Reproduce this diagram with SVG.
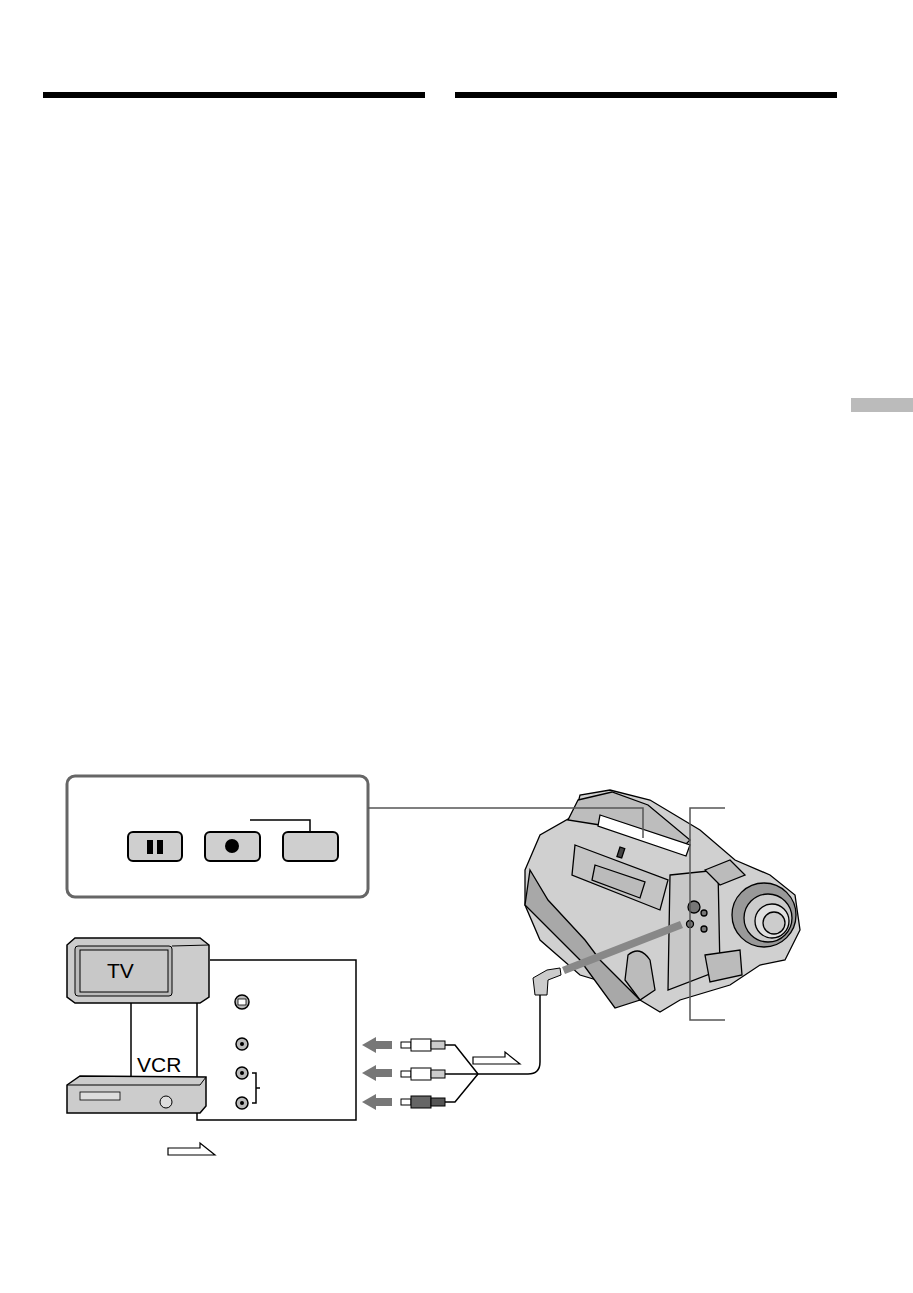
<svg xmlns="http://www.w3.org/2000/svg" width="913" height="1293" viewBox="0 0 913 1293">
<style>
.k{stroke:#000;fill:none;stroke-width:1.5}
.btn{fill:#cfcfcf;stroke:#000;stroke-width:2}
.jack{fill:#bbb;stroke:#000;stroke-width:1.5}
.ga{fill:#777}
.hollow{fill:#fff;stroke:#000;stroke-width:1.2}
.lbl{font-family:"Liberation Sans",Arial,sans-serif;font-size:21px}
</style>
<rect width="913" height="1293" fill="#fff"/>
<rect x="43" y="92" width="382" height="6" fill="#000"/>
<rect x="455" y="92" width="382" height="6" fill="#000"/>
<rect x="851" y="398" width="62" height="14" fill="#bbb"/>

<g id="panel">
<rect x="67" y="776" width="301" height="121" rx="8" fill="#fff" stroke="#666" stroke-width="3"/>
<rect x="128" y="832" width="54" height="29" rx="5" class="btn"/>
<rect x="147" y="840" width="6" height="14" fill="#000"/><rect x="157" y="840" width="6" height="14" fill="#000"/>
<rect x="205" y="832" width="55" height="29" rx="5" class="btn"/>
<circle cx="232" cy="846" r="7" fill="#000"/>
<rect x="283" y="832" width="55" height="29" rx="5" class="btn"/>
<polyline points="250,820 310,820 310,832" class="k" stroke-width="2"/>
</g>

<g id="camera" stroke="#000" stroke-width="1.3">
<path d="M525,870 L540,835 L575,815 L580,795 L610,790 L650,800 L700,830 L735,860 L770,875 L795,895 L800,930 L785,960 L760,965 L730,985 L680,1000 L660,1012 L640,1000 L630,990 L580,975 L540,940 L525,905 Z" fill="#d0d0d0"/>
<path d="M530,870 L548,900 L585,940 L600,960 L640,1000 L615,1008 L580,960 L550,930 L525,905 Z" fill="#a8a8a8"/>
<path d="M578,800 L612,792 L648,805 L690,840 L680,850 L600,825 L568,820 Z" fill="#bdbdbd"/>
<path d="M600,815 L690,845 L686,856 L598,826 Z" fill="#fff"/>
<rect x="620" y="847" width="5" height="10" fill="#444" transform="rotate(18 620 847)"/>
<path d="M575,845 L668,880 L660,910 L572,875 Z" fill="#c4c4c4"/>
<path d="M595,865 L645,882 L640,898 L592,880 Z" fill="#bbb"/>
<path d="M670,875 L718,870 L720,970 L668,990 Z" fill="#c8c8c8"/>
<circle cx="694" cy="907" r="6" fill="#777"/>
<circle cx="690" cy="924" r="3.5" fill="#777"/>
<circle cx="704" cy="913" r="3" fill="#777"/>
<circle cx="704" cy="929" r="3" fill="#777"/>
<path d="M705,870 L730,860 L745,875 L720,885 Z" fill="#bbb"/>
<path d="M705,955 L740,950 L742,975 L710,982 Z" fill="#bbb"/>
<circle cx="764" cy="915" r="32" fill="#999"/>
<circle cx="768" cy="918" r="24" fill="#ccc"/>
<circle cx="772" cy="921" r="17" fill="#e0e0e0"/>
<circle cx="774" cy="923" r="11" fill="#ccc"/>
<path d="M628,955 Q640,945 650,960 L655,990 L640,1000 L625,980 Z" fill="#bbb"/>
</g>

<g id="connectors">
<polyline points="368,808 643,808 643,838" stroke="#555" stroke-width="1.5" fill="none"/>
<polyline points="725,808 690,808 690,1020 725,1020" stroke="#555" stroke-width="1.5" fill="none"/>
<line x1="131" y1="1003" x2="131" y2="1078" class="k"/>
<polyline points="197,1003 197,1120 356,1120 356,960 210,960" class="k"/>
<polygon points="392,1041 376,1041 376,1037 362,1045 376,1053 376,1049 392,1049" class="ga"/>
<polygon points="392,1069 376,1069 376,1065 362,1073 376,1081 376,1077 392,1077" class="ga"/>
<polygon points="392,1098 376,1098 376,1094 362,1102 376,1110 376,1106 392,1106" class="ga"/>
<polyline points="445,1045 455,1045 478,1074" class="k" stroke-width="2"/>
<line x1="445" y1="1074" x2="478" y2="1074" class="k" stroke-width="2"/>
<polyline points="445,1102 455,1102 478,1074" class="k" stroke-width="2"/>
<path d="M478,1074 H528 Q540,1074 540,1062 V985" class="k" stroke-width="2"/>
<polygon points="562,967 680,921 683,928 565,974" fill="#888"/>
<polygon points="473,1057 505,1057 505,1052 520,1064 473,1064" class="hollow"/>
<polygon points="168,1148 200,1148 200,1143 215,1155 168,1155" class="hollow"/>
</g>

<g id="plugs">
<g transform="translate(0,1045)"><rect x="401" y="-3" width="10" height="6" fill="#fff" stroke="#000"/><rect x="411" y="-6" width="20" height="12" fill="#fff" stroke="#000"/><rect x="431" y="-4" width="14" height="8" fill="#ccc" stroke="#000"/></g>
<g transform="translate(0,1074)"><rect x="401" y="-3" width="10" height="6" fill="#fff" stroke="#000"/><rect x="411" y="-6" width="20" height="12" fill="#fff" stroke="#000"/><rect x="431" y="-4" width="14" height="8" fill="#ccc" stroke="#000"/></g>
<g transform="translate(0,1102)"><rect x="401" y="-3" width="10" height="6" fill="#fff" stroke="#000"/><rect x="411" y="-6" width="20" height="12" fill="#666" stroke="#000"/><rect x="431" y="-4" width="14" height="8" fill="#555" stroke="#000"/></g>
<path d="M535,995 L533,978 L547,970 L560,968 L561,975 L548,980 L547,995 Z" fill="#ccc" stroke="#000"/>
</g>

<g id="tv">
<path d="M67,945 L75,938 L200,938 L209,945 L209,997 L200,1003 L75,1003 L67,997 Z" fill="#ccc" stroke="#000" stroke-width="1.5"/>
<rect x="75" y="946" width="97" height="50" rx="3" fill="#bbb" stroke="#000"/>
<rect x="80" y="950" width="88" height="42" fill="#c8c8c8" stroke="#000"/>
<line x1="172" y1="946" x2="209" y2="945" stroke="#000"/>
<text x="107" y="978" class="lbl">TV</text>
</g>

<g id="vcr">
<path d="M67,1085 L80,1076 L206,1077 L206,1106 L200,1113 L67,1113 Z" fill="#ccc" stroke="#000" stroke-width="1.5"/>
<line x1="67" y1="1085" x2="200" y2="1085" stroke="#000"/>
<line x1="200" y1="1085" x2="206" y2="1077" stroke="#000"/>
<rect x="80" y="1092" width="40" height="8" fill="#ddd" stroke="#000" stroke-width="0.8"/>
<circle cx="166" cy="1102" r="6" fill="#ddd" stroke="#000"/>
<text x="137" y="1072" class="lbl">VCR</text>
</g>

<g id="jacks">
<circle cx="242" cy="1002" r="7" class="jack"/><rect x="238" y="999" width="8" height="6" fill="#fff" stroke="#000" stroke-width="0.8"/>
<circle cx="242" cy="1044" r="6" class="jack"/><circle cx="242" cy="1044" r="2" fill="#000"/>
<circle cx="242" cy="1073" r="6" class="jack"/><circle cx="242" cy="1073" r="2" fill="#000"/>
<circle cx="242" cy="1103" r="6" class="jack"/><circle cx="242" cy="1103" r="2" fill="#000"/>
<polyline points="252,1073 256,1073 256,1103 252,1103" class="k" stroke-width="1.2"/>
<line x1="256" y1="1088" x2="260" y2="1088" class="k" stroke-width="1.2"/>
</g>
</svg>
